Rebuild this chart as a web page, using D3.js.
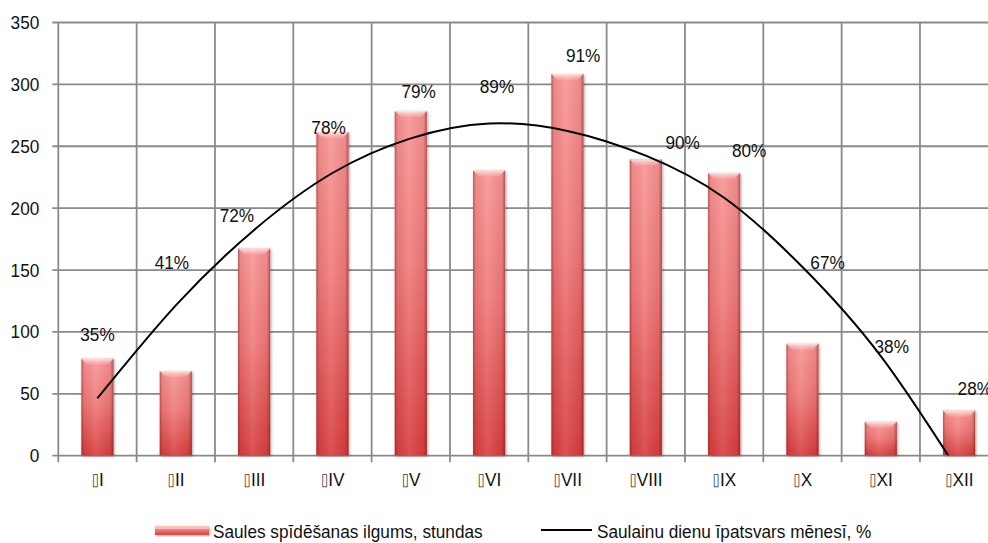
<!DOCTYPE html>
<html>
<head>
<meta charset="utf-8">
<script src="https://cdn.jsdelivr.net/npm/d3@7"></script>
<style>
  body { margin: 0; background: #fff; }
  #chart { width: 988px; height: 543px; overflow: hidden; }
  text { font-family: "Liberation Sans", Arial, sans-serif; fill: #111; }
</style>
</head>
<body>
<div id="chart"></div>
<script>
// months (x categories)
const months = ["I", "II", "III", "IV", "V", "VI", "VII", "VIII", "IX", "X", "XI", "XII"];
// sunshine duration, hours
const sunshineHours = [78, 68, 167, 261, 278, 230, 308, 239, 228, 90, 27, 36];
// share of sunny days in month, %
const sunnyDaysPct = [35, 41, 72, 78, 79, 89, 91, 90, 80, 67, 38, 28];
// trend curve (left axis units), last point falls below 0 and is clipped
const trendValues = [46, 121, 182, 228, 256, 268, 262, 242, 208, 152, 80, -14];
// where the % labels sit: level in left-axis units, and shift as a share of a month step
const labelLevels = [98, 156, 194, 265, 294, 298, 323, 253, 246, 156, 88, 54];
const labelShift = [0, -0.05, -0.22, -0.05, 0.1, 0.1, 0.2, 0.47, 0.32, 0.32, 0.14, 0.2];
// y axis ticks
const yTicks = [0, 50, 100, 150, 200, 250, 300, 350];

const legendLabels = ["Saules spīdēšanas ilgums, stundas", "Saulainu dienu īpatsvars mēnesī, %"];

// the original font is a bit narrower than Arial
const SQUEEZE = 0.93;
const FONT_SIZE = 18.5;

// put x/y of a text into a transform so it can be squeezed horizontally
function narrow(selection) {
  selection.each(function () {
    const t = d3.select(this);
    const x = +t.attr("x") || 0;
    const y = +t.attr("y") || 0;
    t.attr("x", null).attr("y", null)
      .attr("transform", `translate(${x},${y}) scale(${SQUEEZE},1)`);
  });
}

class SunChart {
  constructor(parentElement) {
    this.parentElement = parentElement;
    this.initVis();
  }

  initVis() {
    const vis = this;

    vis.margin = { top: 22, left: 58.3 };
    vis.width = 940; // wider than the window, right side is cut like in the original
    vis.height = 433.2;

    vis.svg = d3
      .select("#" + vis.parentElement)
      .append("svg")
      .attr("width", 988)
      .attr("height", 543);

    const defs = vis.svg.append("defs");

    // vertical colour of the bars
    const gv = defs.append("linearGradient").attr("id", "barV")
      .attr("x1", 0).attr("y1", 0).attr("x2", 0).attr("y2", 1);
    gv.append("stop").attr("offset", "0%").attr("stop-color", "#f89595");
    gv.append("stop").attr("offset", "45%").attr("stop-color", "#f07a7a");
    gv.append("stop").attr("offset", "100%").attr("stop-color", "#d73e3e");

    // darker sides for a round look
    const gh = defs.append("linearGradient").attr("id", "barH")
      .attr("x1", 0).attr("y1", 0).attr("x2", 1).attr("y2", 0);
    gh.append("stop").attr("offset", "0%").attr("stop-color", "#6a1010").attr("stop-opacity", 0.45);
    gh.append("stop").attr("offset", "8%").attr("stop-color", "#6a1010").attr("stop-opacity", 0.08);
    gh.append("stop").attr("offset", "45%").attr("stop-color", "#ffffff").attr("stop-opacity", 0.1);
    gh.append("stop").attr("offset", "90%").attr("stop-color", "#6a1010").attr("stop-opacity", 0.08);
    gh.append("stop").attr("offset", "100%").attr("stop-color", "#6a1010").attr("stop-opacity", 0.5);

    // bevel on the top
    const gt = defs.append("linearGradient").attr("id", "barTop")
      .attr("x1", 0).attr("y1", 0).attr("x2", 0).attr("y2", 1);
    gt.append("stop").attr("offset", "0%").attr("stop-color", "#ffffff").attr("stop-opacity", 0.75);
    gt.append("stop").attr("offset", "100%").attr("stop-color", "#ffc8c8").attr("stop-opacity", 0.2);

    const shadow = defs.append("filter").attr("id", "shadow")
      .attr("x", "-30%").attr("y", "-10%").attr("width", "160%").attr("height", "130%");
    shadow.append("feDropShadow").attr("dx", 1).attr("dy", 1)
      .attr("stdDeviation", 1.5).attr("flood-color", "#000").attr("flood-opacity", 0.35);

    defs.append("clipPath").attr("id", "plotClip")
      .append("rect").attr("x", 0).attr("y", -5).attr("width", vis.width).attr("height", vis.height + 5);

    vis.g = vis.svg.append("g")
      .attr("transform", `translate(${vis.margin.left},${vis.margin.top})`);

    vis.x = d3.scaleBand().domain(months).range([0, vis.width]).padding(0);
    vis.y = d3.scaleLinear().domain([0, 350]).range([vis.height, 0]);

    vis.updateVis();
  }

  updateVis() {
    const vis = this;
    const step = vis.x.step();
    const barW = step * 0.41;
    const gridColor = "#8a8a8a";

    // horizontal grid + y ticks
    const yAxis = d3.axisLeft(vis.y).tickValues(yTicks).tickSize(0).tickPadding(0);
    const yg = vis.g.append("g").attr("class", "y-axis").call(yAxis);
    yg.select(".domain").remove();
    yg.selectAll(".tick line")
      .attr("x1", -6).attr("x2", vis.width)
      .attr("stroke", gridColor).attr("stroke-width", 1.8);
    yg.selectAll(".tick text")
      .attr("x", -19).attr("y", 0).attr("dy", "0.35em")
      .attr("font-size", FONT_SIZE).attr("fill", "#111")
      .style("font-family", null)
      .call(narrow);
    yg.attr("font-family", null).attr("font-size", null);

    // vertical grid at band edges, running 7px below the axis
    const edges = d3.range(months.length + 1).map((i) => i * step);
    vis.g.selectAll("line.vgrid")
      .data(edges)
      .join("line")
      .attr("class", "vgrid")
      .attr("x1", (d) => d).attr("x2", (d) => d)
      .attr("y1", 0).attr("y2", vis.height + 7)
      .attr("stroke", gridColor).attr("stroke-width", 1.8);

    // x labels (the box is a glyph missing in the original font)
    const xl = vis.g.selectAll("text.xlab")
      .data(months)
      .join("text")
      .attr("class", "xlab")
      .attr("x", (d) => vis.x(d) + step / 2)
      .attr("y", vis.height + 31)
      .attr("text-anchor", "middle")
      .attr("font-size", FONT_SIZE);
    xl.append("tspan")
      .style("font-family", "'DejaVu Sans Mono', 'DejaVu Sans'")
      .attr("font-size", 14)
      .attr("fill", "#333")
      .text("\u2337");
    xl.append("tspan").text((d) => d);
    xl.call(narrow);

    // bars
    const bars = vis.g.selectAll("g.bar")
      .data(months.map((m, i) => ({ month: m, value: sunshineHours[i] })))
      .join("g")
      .attr("class", "bar")
      .attr("transform", (d) => `translate(${vis.x(d.month) + (step - barW) / 2},0)`);

    bars.append("rect")
      .attr("y", (d) => vis.y(d.value))
      .attr("width", barW)
      .attr("height", (d) => vis.y(0) - vis.y(d.value))
      .attr("fill", "url(#barV)")
      .attr("filter", "url(#shadow)");
    bars.append("rect")
      .attr("y", (d) => vis.y(d.value))
      .attr("width", barW)
      .attr("height", (d) => vis.y(0) - vis.y(d.value))
      .attr("fill", "url(#barH)");
    bars.append("path")
      .attr("d", (d) => {
        const t = vis.y(d.value);
        const b = 6;
        return `M0,${t}H${barW}L${barW - b},${t + b}H${b}Z`;
      })
      .attr("fill", "url(#barTop)");

    // trend curve
    const line = d3.line()
      .x((d, i) => vis.x(months[i]) + step / 2)
      .y((d) => vis.y(d))
      .curve(d3.curveNatural);
    vis.g.append("path")
      .attr("clip-path", "url(#plotClip)")
      .attr("d", line(trendValues))
      .attr("fill", "none")
      .attr("stroke", "#000")
      .attr("stroke-width", 2);

    // % labels
    vis.g.selectAll("text.pct")
      .data(sunnyDaysPct)
      .join("text")
      .attr("class", "pct")
      .attr("x", (d, i) => vis.x(months[i]) + step / 2 + labelShift[i] * step)
      .attr("y", (d, i) => vis.y(labelLevels[i]))
      .attr("dy", "0.36em")
      .attr("text-anchor", "middle")
      .attr("font-size", FONT_SIZE)
      .text((d) => d + "%")
      .call(narrow);

    // legend
    const leg = vis.svg.append("g").attr("class", "legend");
    const swatch = leg.append("g").attr("transform", "translate(155,526)");
    swatch.append("rect").attr("width", 54).attr("height", 9)
      .attr("fill", "url(#barV)").attr("filter", "url(#shadow)");
    swatch.append("rect").attr("width", 54).attr("height", 3).attr("fill", "#fff").attr("opacity", 0.45);
    leg.append("text").attr("x", 213).attr("y", 531).attr("dy", "0.36em")
      .attr("font-size", FONT_SIZE).text(legendLabels[0]).call(narrow);
    leg.append("line").attr("x1", 541).attr("x2", 592).attr("y1", 530).attr("y2", 530)
      .attr("stroke", "#000").attr("stroke-width", 2);
    leg.append("text").attr("x", 597).attr("y", 531).attr("dy", "0.36em")
      .attr("font-size", FONT_SIZE).text(legendLabels[1]).call(narrow);
  }
}

new SunChart("chart");
</script>
</body>
</html>
